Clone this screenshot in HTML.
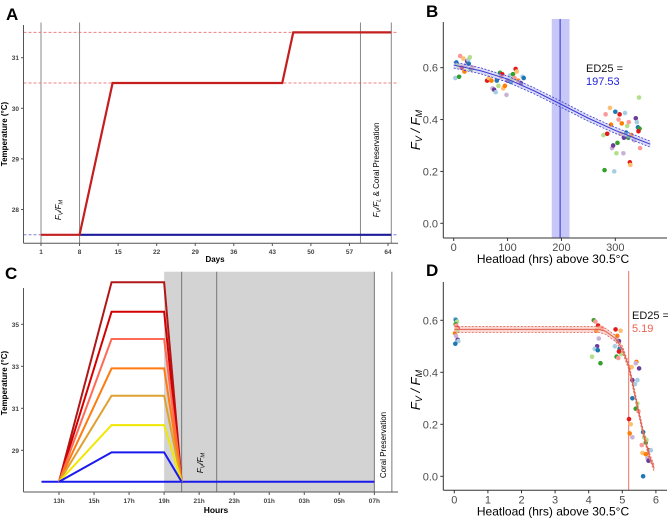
<!DOCTYPE html>
<html><head><meta charset="utf-8"><style>
body{margin:0;background:#fff}
svg{display:block;font-family:"Liberation Sans",sans-serif}
</style></head><body>
<svg id="fig" width="668" height="518" viewBox="0 0 668 518" xmlns="http://www.w3.org/2000/svg">
<g id="pA"></g>
<g id="pB"></g>
<g id="pC"></g>
<g id="pD"></g>
</svg>
<script>
// ---------- Panel A data ----------
const aTicksX=[1,8,15,22,29,36,43,50,57,64];
const aTicksY=[28,29,30,31];
const aHeatDays=[1,8,14,44.8,46.8,64.6];
const aHeatTemp=[27.5,27.5,30.5,30.5,31.5,31.5];
const aCtrlDays=[8,64.6];
const aCtrlTemp=[27.5,27.5];
const aVLines=[1,8,59,64.6];
const aRefTemps=[31.5,30.5];
// ---------- Panel B data ----------
const bTicksX=[0,100,200,300];
const bTicksY=[0,0.2,0.4,0.6];
const bFitX=[0,50,100,150,200,250,300,365];
const bFitY=[0.61,0.588,0.556,0.51,0.458,0.405,0.358,0.305];
const bED=197.53, bEDlo=182, bEDhi=215;
const bPtX=[3,5,8,10,12,15,18,20,22,25,27,28,30,32,35,62,65,70,72,75,78,80,83,86,88,90,92,95,98,100,104,106,108,110,113,115,117,120,122,125,128,130,278,280,282,285,290,292,294,296,298,300,302,304,306,308,310,312,315,316,318,320,322,324,325,327,328,330,335,338,340,342,344,345,346,343];
const bPtY=[0.56,0.62,0.61,0.565,0.645,0.6,0.635,0.585,0.61,0.625,0.63,0.615,0.64,0.595,0.6,0.55,0.56,0.55,0.52,0.515,0.505,0.55,0.53,0.58,0.565,0.575,0.52,0.53,0.495,0.55,0.57,0.545,0.555,0.575,0.56,0.595,0.585,0.55,0.545,0.54,0.565,0.56,0.34,0.205,0.42,0.345,0.445,0.38,0.29,0.3,0.2,0.43,0.27,0.31,0.4,0.42,0.345,0.385,0.27,0.33,0.425,0.35,0.375,0.33,0.39,0.235,0.225,0.34,0.32,0.405,0.39,0.37,0.485,0.365,0.29,0.355];
// ---------- Panel C data ----------
const cTicks=["13h","15h","17h","19h","21h","23h","01h","03h","05h","07h"];
const cTickHours=[13,15,17,19,21,23,25,27,29,31];
const cTicksY=[29,31,33,35];
const cPeaks=[37.0,35.6,34.3,32.9,31.6,30.2,28.9];
const cColors=["#b01818","#d40000","#ff6a55","#ff7a10","#e0a030","#f0e800","#1a1aee"];
const cBase=27.5;
const cRampStart=13, cRampEnd=16, cHoldEnd=19, cDownEnd=20;
const cVLines=[20,22,31,32];
// ---------- Panel D data ----------
const dTicksX=[0,1,2,3,4,5,6];
const dTicksY=[0,0.2,0.4,0.6];
const dFitX=[0,4.3,4.5,4.8,5.0,5.2,5.4,5.6,5.8,5.95];
const dFitY=[0.565,0.565,0.558,0.53,0.49,0.42,0.3,0.18,0.08,0.03];
const dED=5.19;
const dPtX=[0.03,0.05,0.08,0.04,0.06,0.1,0.07,0.02,0.05,0.1,0.12,0.03,0.09,4.15,4.2,4.28,4.32,4.22,4.3,4.25,4.18,4.27,4.1,4.35,4.4,4.8,4.95,4.85,4.82,4.9,4.78,4.92,4.97,4.83,4.88,4.9,5.28,5.42,5.4,5.3,5.38,5.3,5.45,5.4,5.48,5.2,5.25,5.22,5.3,5.5,5.45,5.62,5.65,5.7,5.58,5.8,5.6,5.7,5.75,5.78,5.85,5.62,5.72];
const dPtY=[0.605,0.6,0.595,0.585,0.58,0.57,0.565,0.55,0.54,0.525,0.52,0.51,0.56,0.6,0.595,0.58,0.57,0.56,0.53,0.5,0.49,0.485,0.46,0.435,0.57,0.565,0.56,0.54,0.525,0.52,0.5,0.49,0.47,0.46,0.455,0.48,0.42,0.44,0.435,0.37,0.355,0.3,0.28,0.26,0.25,0.22,0.2,0.165,0.15,0.415,0.37,0.17,0.15,0.13,0.12,0.1,0.09,0.085,0.07,0.06,0.1,0.0,0.14];
const palette=["#a6cee3","#1f78b4","#b2df8a","#33a02c","#fb9a99","#e31a1c","#fdbf6f","#ff7f00","#cab2d6","#6a3d9a"];

const NS="http://www.w3.org/2000/svg";
function mk(parent,tag,attrs,txt){const e=document.createElementNS(NS,tag);for(const k in attrs)e.setAttribute(k,attrs[k]);if(txt!==undefined)e.textContent=txt;parent.appendChild(e);return e;}

// ===== Panel A =====
(function(){
const g=document.getElementById('pA');
const X=d=>41+(d-1)*5.508, Y=t=>108.3-(t-30)*50.6;
let t=mk(g,'text',{x:6,y:20,'font-size':17,'font-weight':'bold'},'A');


aRefTemps.forEach(v=>{let l=mk(g,'line',{x1:23.5,x2:398,y1:Y(v),y2:Y(v),stroke:'#f08080','stroke-width':1,'stroke-dasharray':'3,2'});

});
let bl=mk(g,'line',{x1:23.5,x2:398,y1:Y(27.5),y2:Y(27.5),stroke:'#8080e0','stroke-width':1,'stroke-dasharray':'3,2'});


aVLines.forEach(v=>{let l=mk(g,'line',{x1:X(v),x2:X(v),y1:22.5,y2:243.3,stroke:'#888','stroke-width':1});

});
let ctl=mk(g,'polyline',{points:aCtrlDays.map((d,i)=>X(d)+','+Y(aCtrlTemp[i])).join(' '),fill:'none',stroke:'#1c1c9c','stroke-width':2.2});


let ht=mk(g,'polyline',{points:aHeatDays.map((d,i)=>X(d)+','+Y(aHeatTemp[i])).join(' '),fill:'none',stroke:'#c41e1e','stroke-width':2.2});


mk(g,'line',{x1:23.5,x2:23.5,y1:25,y2:243.3,stroke:'#555'});
mk(g,'line',{x1:23.5,x2:398,y1:243.3,y2:243.3,stroke:'#555'});
aTicksX.forEach(v=>{mk(g,'line',{x1:X(v),x2:X(v),y1:243.3,y2:246,stroke:'#555'});
let tl=mk(g,'text',{x:X(v),y:254,'font-size':6.5,'font-weight':'bold','text-anchor':'middle',fill:'#444'},v);

});
aTicksY.forEach(v=>{mk(g,'line',{x1:21,x2:23.5,y1:Y(v),y2:Y(v),stroke:'#555'});
let tl=mk(g,'text',{x:19,y:Y(v)+2.5,'font-size':6.5,'font-weight':'bold','text-anchor':'end',fill:'#444'},v);

});
let xt=mk(g,'text',{x:215,y:262,'font-size':8,'font-weight':'bold','text-anchor':'middle'},'Days');


let yt=mk(g,'text',{x:0,y:0,'font-size':8,'font-weight':'bold','text-anchor':'middle',transform:'translate(7,134) rotate(-90)'},'Temperature (°C)');


let a1=mk(g,'text',{x:0,y:0,'font-size':8,'font-style':'italic','text-anchor':'middle',transform:'translate(61,210) rotate(-90)'});
a1.innerHTML='F<tspan font-size="5.5" dy="1.5">V</tspan><tspan dy="-1.5">/F</tspan><tspan font-size="5.5" dy="1.5">M</tspan>';


let a2=mk(g,'text',{x:0,y:0,'font-size':8,'text-anchor':'middle',transform:'translate(379,170) rotate(-90)'});
a2.innerHTML='<tspan font-style="italic">F<tspan font-size="5.5" dy="1.5">V</tspan><tspan dy="-1.5">/F</tspan><tspan font-size="5.5" dy="1.5">L</tspan></tspan><tspan dy="-1.5">  &amp; Coral Preservation</tspan>';


})();

// ===== Panel C =====
(function(){
const g=document.getElementById('pC');
const X=h=>59+(h-13)*17.52, Y=t=>324.3-(t-35)*21;
let t=mk(g,'text',{x:5,y:279,'font-size':17,'font-weight':'bold'},'C');


let r=mk(g,'rect',{x:X(19),y:271.7,width:X(31)-X(19),height:492-271.7,fill:'#d3d3d3'});


cVLines.forEach(v=>{let l=mk(g,'line',{x1:X(v),x2:X(v),y1:271.7,y2:492,stroke:'#777','stroke-width':1});

});
let base=mk(g,'line',{x1:X(12),x2:X(31),y1:Y(cBase),y2:Y(cBase),stroke:'#1a1aee','stroke-width':2});


cPeaks.forEach((p,i)=>{
 const pts=[[cRampStart,cBase],[cRampEnd,p],[cHoldEnd,p],[cDownEnd,cBase]];
 let l=mk(g,'polyline',{points:pts.map(q=>X(q[0])+','+Y(q[1])).join(' '),fill:'none',stroke:cColors[i],'stroke-width':2});
 
 
});
mk(g,'line',{x1:23.5,x2:23.5,y1:288,y2:492,stroke:'#555'});
mk(g,'line',{x1:23.5,x2:398,y1:492,y2:492,stroke:'#555'});
cTicks.forEach((lab,i)=>{const x=X(cTickHours[i]);mk(g,'line',{x1:x,x2:x,y1:492,y2:495,stroke:'#555'});
let tl=mk(g,'text',{x:x,y:503,'font-size':6.5,'font-weight':'bold','text-anchor':'middle',fill:'#444'},lab);

});
cTicksY.forEach(v=>{mk(g,'line',{x1:21,x2:23.5,y1:Y(v),y2:Y(v),stroke:'#555'});
let tl=mk(g,'text',{x:19,y:Y(v)+2.5,'font-size':6.5,'font-weight':'bold','text-anchor':'end',fill:'#444'},v);

});
let xt=mk(g,'text',{x:216,y:513,'font-size':8.5,'font-weight':'bold','text-anchor':'middle'},'Hours');


let yt=mk(g,'text',{x:0,y:0,'font-size':8,'font-weight':'bold','text-anchor':'middle',transform:'translate(7,383) rotate(-90)'},'Temperature (°C)');


let a1=mk(g,'text',{x:0,y:0,'font-size':8,'font-style':'italic','text-anchor':'middle',transform:'translate(203,463) rotate(-90)'});
a1.innerHTML='F<tspan font-size="5.5" dy="1.5">V</tspan><tspan dy="-1.5">/F</tspan><tspan font-size="5.5" dy="1.5">M</tspan>';


let a2=mk(g,'text',{x:0,y:0,'font-size':8,'text-anchor':'middle',transform:'translate(386,445) rotate(-90)'},'Coral Preservation');


})();

// ===== scatter panel helper =====
function scatterPanel(g,o){
 const X=v=>o.x0+v*o.sx, Y=v=>o.y0-v*o.sy;
 let t=mk(g,'text',{x:o.lx,y:o.ly,'font-size':17,'font-weight':'bold'},o.letter);
 
 
 if(o.band){let r=mk(g,'rect',{x:X(o.band[0]),y:o.top,width:X(o.band[1])-X(o.band[0]),height:o.bottom-o.top,fill:'#c8c8f8'});
 
 }
 let ed=mk(g,'line',{x1:X(o.ed),x2:X(o.ed),y1:o.top,y2:o.bottom,stroke:o.edColor,'stroke-width':1});
 
 
 o.px.forEach((x,i)=>{let c=mk(g,'circle',{cx:X(x),cy:Y(o.py[i]),r:2.3,fill:palette[i%10]});
 
 });
 const pts=o.fx.map((x,i)=>[X(x),Y(o.fy[i])]);
 const up=pts.map(p=>p[0]+','+(p[1]-3)).join(' '), dn=pts.slice().reverse().map(p=>p[0]+','+(p[1]+3)).join(' ');
 let ci=mk(g,'polygon',{points:up+' '+dn,fill:o.ciFill,opacity:0.5});
 
 
 [-3,3].forEach(d=>{let l=mk(g,'polyline',{points:pts.map(p=>p[0]+','+(p[1]+d)).join(' '),fill:'none',stroke:o.fitColor,'stroke-width':0.8,'stroke-dasharray':'2,1.5'});
 
 });
 let fl=mk(g,'polyline',{points:pts.map(p=>p[0]+','+p[1]).join(' '),fill:'none',stroke:o.fitColor,'stroke-width':1});
 
 
 mk(g,'line',{x1:443.3,x2:443.3,y1:o.axTop,y2:o.bottom,stroke:'#333','stroke-width':1});
 mk(g,'line',{x1:443.3,x2:667,y1:o.bottom,y2:o.bottom,stroke:'#333','stroke-width':1});
 o.tx.forEach(v=>{mk(g,'line',{x1:X(v),x2:X(v),y1:o.bottom,y2:o.bottom+3,stroke:'#333'});
 let tl=mk(g,'text',{x:X(v),y:o.bottom+13,'font-size':11,'text-anchor':'middle',fill:'#4d4d4d'},v);
 
 });
 o.ty.forEach(v=>{mk(g,'line',{x1:440.3,x2:443.3,y1:Y(v),y2:Y(v),stroke:'#333'});
 let tl=mk(g,'text',{x:438,y:Y(v)+4,'font-size':11,'text-anchor':'end',fill:'#4d4d4d'},v.toFixed(1));
 
 });
 let xt=mk(g,'text',{x:553,y:o.bottom+25,'font-size':12,'text-anchor':'middle'},'Heatload (hrs) above 30.5°C');
 
 
 let yt=mk(g,'text',{x:0,y:0,'font-size':13,'font-style':'italic','text-anchor':'middle',transform:'translate(420,'+o.ylabY+') rotate(-90)'});
 yt.innerHTML='F<tspan font-size="9" dy="2">V</tspan><tspan dy="-2"> / F</tspan><tspan font-size="9" dy="2">M</tspan>';
 
 
 let e1=mk(g,'text',{x:o.edTx,y:o.edTy,'font-size':11,fill:'#111'},'ED25 =');
 
 
 let e2=mk(g,'text',{x:o.edTx,y:o.edTy+13,'font-size':11,fill:o.edTextColor},o.edText);
 
 
}
scatterPanel(document.getElementById('pB'),{letter:'B',lx:426,ly:17,x0:453.7,sx:0.5387,y0:223.3,sy:259.4,top:19,axTop:22,bottom:238,
 band:[bEDlo,bEDhi],ed:bED,edColor:'#3030d0',px:bPtX,py:bPtY,fx:bFitX,fy:bFitY,ciFill:'#b8b8e8',fitColor:'#3a3ad8',
 tx:bTicksX,ty:bTicksY,ylabY:130,edTx:586,edTy:72,edText:bED.toFixed(2),edTextColor:'#2222dd'});
scatterPanel(document.getElementById('pD'),{letter:'D',lx:426,ly:276,x0:454.3,sx:33.6,y0:476.3,sy:260,top:271,axTop:282,bottom:490.3,
 band:null,ed:dED,edColor:'#f07060',px:dPtX,py:dPtY,fx:dFitX,fy:dFitY,ciFill:'#f4b0a8',fitColor:'#e06050',
 tx:dTicksX,ty:dTicksY,ylabY:390,edTx:632,edTy:319,edText:dED.toFixed(2),edTextColor:'#f06050'});
</script>
</body></html>
